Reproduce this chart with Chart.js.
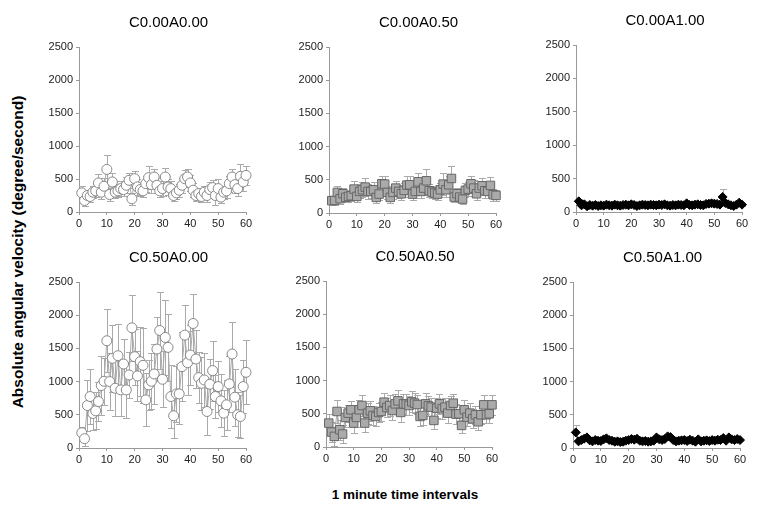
<!DOCTYPE html>
<html>
<head>
<meta charset="utf-8">
<script src="https://cdn.jsdelivr.net/npm/chart.js@4/dist/chart.umd.min.js"></script>
<style>
  html, body { margin: 0; padding: 0; background: #fff; overflow: hidden; }
  body { width: 769px; height: 518px; position: relative; font-family: "Liberation Sans", Arial, sans-serif; }
  canvas { position: absolute; }
  .axis-title { position: absolute; font-weight: bold; color: #000; white-space: nowrap; }
  #ytitle { left: 18px; top: 252px; font-size: 15.5px; transform: translate(-50%, -50%) rotate(-90deg); }
  #xtitle { left: 405px; top: 494px; font-size: 13.5px; transform: translate(-50%, -50%); }
</style>
</head>
<body>
<div id="ytitle" class="axis-title">Absolute angular velocity (degree/second)</div>
<div id="xtitle" class="axis-title">1 minute time intervals</div>
<script>
// one-minute intervals
const minutes = [1,2,3,4,5,6,7,8,9,10,11,12,13,14,15,16,17,18,19,20,
  21,22,23,24,25,26,27,28,29,30,31,32,33,34,35,36,37,38,39,40,
  41,42,43,44,45,46,47,48,49,50,51,52,53,54,55,56,57,58,59,60];
const yTicks = [0, 500, 1000, 1500, 2000, 2500];
const xTicks = [0, 10, 20, 30, 40, 50, 60];
const panelTitles = ['C0.00A0.00', 'C0.00A0.50', 'C0.00A1.00', 'C0.50A0.00', 'C0.50A0.50', 'C0.50A1.00'];

const meanC00A00 = [290,175,250,235,300,320,440,300,390,645,265,455,300,320,355,340,405,480,200,505,
  380,340,320,430,520,415,530,405,320,355,530,380,355,250,290,330,405,505,530,440,
  330,250,280,235,300,250,340,370,250,355,225,300,320,430,530,415,355,540,455,555];
const errC00A00 = [105,80,90,85,95,100,140,110,120,225,100,130,95,100,110,105,120,115,90,110,
  120,105,100,120,170,130,125,110,100,110,140,120,110,85,95,100,115,130,125,120,
  110,85,90,85,100,95,110,115,150,140,90,100,105,120,125,130,110,180,130,140];

const meanC00A05 = [185,190,310,215,290,235,250,260,360,250,325,350,390,325,325,350,235,285,440,435,
  310,235,310,375,325,290,340,420,425,285,325,470,325,375,485,335,315,300,285,350,
  435,350,425,520,240,290,240,210,340,360,440,375,290,375,410,335,325,415,275,265];
const errC00A05 = [60,70,100,80,90,75,80,85,120,90,105,110,130,110,100,110,85,95,120,115,
  100,80,100,110,100,95,105,130,130,95,100,130,100,110,180,100,95,90,90,105,
  170,110,130,195,80,90,80,75,105,110,110,115,95,110,120,110,100,125,90,85];

const meanC00A10 = [160,100,115,85,105,95,105,90,100,95,110,100,95,110,100,95,105,110,100,115,
  105,90,100,110,105,100,110,105,100,110,105,115,100,95,105,100,110,105,100,130,
  105,100,110,115,105,100,120,125,130,125,120,110,225,135,115,100,90,110,140,110];
const errC00A10 = [30,20,20,18,20,18,20,18,20,18,20,20,18,20,20,18,20,20,18,22,
  20,18,20,20,20,18,20,20,18,20,20,22,18,18,20,18,20,20,18,25,
  20,18,20,22,20,18,22,25,25,25,22,20,125,25,22,20,18,20,25,20];

const meanC05A00 = [230,140,640,775,520,560,700,940,1005,1615,1000,1350,900,1390,875,1265,875,1100,1810,1375,
  1085,1300,1245,725,950,1005,1115,1490,1770,1035,1665,1515,775,485,815,815,1225,1700,1285,1400,
  1875,1340,1060,975,1025,550,960,1165,775,925,710,525,650,965,1415,765,500,475,925,1140];
const errC05A00 = [90,110,380,420,250,280,300,450,350,475,430,500,420,470,400,380,420,350,500,420,
  380,520,560,400,380,420,450,480,575,420,560,500,480,340,420,450,520,460,480,450,
  445,430,380,400,400,350,380,450,330,380,400,350,380,420,490,430,340,320,400,480];

const meanC05A05 = [360,225,160,535,260,195,445,510,560,360,445,560,625,360,510,545,475,460,520,535,
  675,595,625,550,650,695,520,650,645,625,680,660,640,460,475,650,620,600,400,585,
  650,575,600,510,625,660,495,500,325,560,450,510,425,485,380,485,635,485,500,635];
const errC05A05 = [140,150,140,175,150,130,150,130,140,150,150,150,160,130,160,150,140,140,150,150,
  145,150,160,150,150,160,150,150,160,150,160,150,150,140,150,160,150,140,130,150,
  150,150,140,150,150,140,150,130,120,150,140,150,140,140,130,140,150,130,140,150];

const meanC05A10 = [235,100,120,140,160,115,100,120,110,105,130,145,120,110,95,100,90,95,110,120,
  135,125,140,110,100,105,95,100,110,160,130,120,135,175,165,120,100,110,115,120,
  105,125,110,95,130,100,110,115,105,120,110,125,120,150,110,160,130,120,135,120];
const errC05A10 = [115,20,20,25,25,20,20,20,20,20,20,25,20,20,20,20,20,20,20,22,
  25,22,25,20,20,20,20,20,20,25,22,20,22,25,25,20,20,20,20,22,
  20,22,20,20,22,20,20,22,20,22,20,22,20,25,20,25,22,20,22,20];

const panelMeans = [meanC00A00, meanC00A05, meanC00A10, meanC05A00, meanC05A05, meanC05A10];
const panelErrors = [errC00A00, errC00A05, errC00A10, errC05A00, errC05A05, errC05A10];

// plot-area placement of each panel on the page
const plotBoxes = [
  {left: 79,  top: 47,  right: 246, bottom: 212},
  {left: 329, top: 47,  right: 496, bottom: 213},
  {left: 576, top: 45,  right: 742, bottom: 212},
  {left: 79,  top: 282, right: 246, bottom: 448},
  {left: 326, top: 281, right: 492, bottom: 447},
  {left: 573, top: 282, right: 740, bottom: 448}
];
const Y_AXIS_W = 50, X_AXIS_H = 25, TOP_SPACE = 39, RIGHT_SPACE = 10;

const circleStyle = {pointStyle: 'circle', pointRadius: 5, backgroundColor: '#fff', borderColor: '#888', lineColor: '#aaa'};
const squareStyle = {pointStyle: 'rect', pointRadius: 6, backgroundColor: '#aaa', borderColor: '#666', lineColor: '#aaa'};
const diamondStyle = {pointStyle: 'rectRot', pointRadius: 4.5, backgroundColor: '#000', borderColor: '#000', lineColor: '#000'};
const markerStyles = [circleStyle, squareStyle, diamondStyle, circleStyle, squareStyle, diamondStyle];

const errorBars = {
    id: 'errorBars',
    beforeDatasetsDraw(chart) {
        const {ctx} = chart;
        const y = chart.scales.y;
        chart.data.datasets.forEach((ds, i) => {
            const meta = chart.getDatasetMeta(i);
            ctx.save();
            ctx.strokeStyle = '#aaa';
            ctx.lineWidth = 1;
            ctx.beginPath();
            meta.data.forEach((pt, j) => {
                const v = ds.data[j].y, e = ds.errors[j];
                const top = Math.round(y.getPixelForValue(v + e)) + 0.5;
                const bot = Math.round(y.getPixelForValue(Math.max(v - e, 0))) + 0.5;
                const x = Math.round(pt.x) + 0.5;
                ctx.moveTo(x, top); ctx.lineTo(x, bot);
                ctx.moveTo(x - 3.5, top); ctx.lineTo(x + 3.5, top);
                ctx.moveTo(x - 3.5, bot); ctx.lineTo(x + 3.5, bot);
            });
            ctx.stroke();
            ctx.restore();
        });
    }
};

const panelTitle = {
    id: 'panelTitle',
    afterDraw(chart, args, opts) {
        const {ctx, chartArea} = chart;
        ctx.save();
        ctx.font = '15px "Liberation Sans", Arial, sans-serif';
        ctx.fillStyle = '#000';
        ctx.textAlign = 'center';
        ctx.textBaseline = 'middle';
        ctx.fillText(opts.text, (chartArea.left + chartArea.right) / 2 + 6, chartArea.top - 24);
        ctx.restore();
    }
};

const tickFont = {family: '"Liberation Sans", Arial, sans-serif', size: 11};

plotBoxes.forEach((box, p) => {
    const canvas = document.createElement('canvas');
    const w = box.right - box.left + Y_AXIS_W + RIGHT_SPACE;
    const h = box.bottom - box.top + TOP_SPACE + X_AXIS_H;
    canvas.width = w;
    canvas.height = h;
    canvas.style.left = (box.left - Y_AXIS_W) + 'px';
    canvas.style.top = (box.top - TOP_SPACE) + 'px';
    document.body.appendChild(canvas);

    const st = markerStyles[p];
    const means = panelMeans[p];

    new Chart(canvas.getContext('2d'), {
        type: 'line',
        data: {
            datasets: [{
                data: minutes.map((m, i) => ({x: m, y: means[i]})),
                errors: panelErrors[p],
                showLine: true,
                borderColor: st.lineColor,
                borderWidth: 1,
                pointStyle: st.pointStyle,
                pointRadius: st.pointRadius,
                pointBackgroundColor: st.backgroundColor,
                pointBorderColor: st.borderColor,
                pointBorderWidth: 1,
                tension: 0,
                clip: false
            }]
        },
        options: {
            responsive: false,
            animation: false,
            devicePixelRatio: 1,
            layout: {padding: {top: TOP_SPACE, right: RIGHT_SPACE, left: 0, bottom: 0}},
            plugins: {
                legend: {display: false},
                tooltip: {enabled: false},
                panelTitle: {text: panelTitles[p]}
            },
            scales: {
                x: {
                    type: 'linear',
                    min: 0,
                    max: 60,
                    afterBuildTicks: s => { s.ticks = xTicks.map(v => ({value: v})); },
                    afterFit: s => { s.height = X_AXIS_H; },
                    grid: {drawOnChartArea: false, drawTicks: true, tickLength: 3, color: '#999'},
                    border: {display: true, color: '#999'},
                    ticks: {font: tickFont, color: '#222', padding: 2, maxRotation: 0, autoSkip: false,
                        callback: v => String(v)}
                },
                y: {
                    min: 0,
                    max: 2500,
                    afterBuildTicks: s => { s.ticks = yTicks.map(v => ({value: v})); },
                    afterFit: s => { s.width = Y_AXIS_W; },
                    grid: {drawOnChartArea: false, drawTicks: true, tickLength: 3, color: '#999'},
                    border: {display: true, color: '#999'},
                    ticks: {font: tickFont, color: '#222', padding: 3, callback: v => String(v)}
                }
            }
        },
        plugins: [errorBars, panelTitle]
    });
});
</script>
</body>
</html>
